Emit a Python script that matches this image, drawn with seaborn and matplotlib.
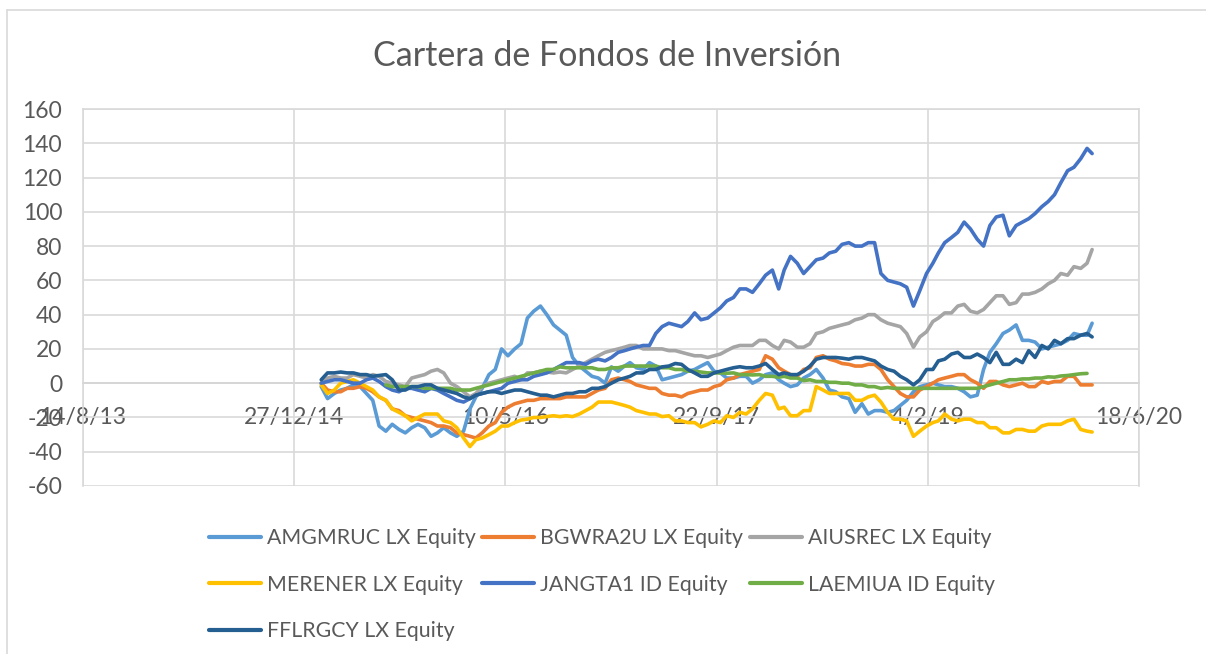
import numpy as np
import pandas as pd
import matplotlib
matplotlib.use("Agg")
import matplotlib.pyplot as plt
import seaborn as sns

# ---------------- data ----------------
series_names = ["AMGMRUC LX Equity", "BGWRA2U LX Equity", "AIUSREC LX Equity",
                "MERENER LX Equity", "JANGTA1 ID Equity", "LAEMIUA ID Equity",
                "FFLRGCY LX Equity"]

# observation dates: 1st and 16th of each month, plus last observation
month_starts = pd.date_range("2015-03-01", periods=60, freq="MS")
last_date = pd.Timestamp("2020-02-28")

nan = np.nan
# values on the 1st of each month (m), mid-month (h), and last observation (end)
amgmruc_m = [-2, -6, -3, -2, -10, -28, -27, -26, -26, -29,
             -29, -28, -8, 5, 20, 20, 38, 45, 34, 28,
             10, 4, 0, 7, 12, 8, 10, 3, 5, 8,
             12, 6, 3, 4, 2, 6, 0, -1, 5, 3,
             -5, -9, -12, -16, -17, -13, -5, -1, -1, -2,
             -5, -7, 18, 29, 34, 25, 20, 22, 25, 28]
amgmruc_h = [-9, -4, -1, -6, -25, -24, -29, -24, -31, -26,
             -31, -15, -3, 8, 16, 23, 42, 40, 31, 15,
             7, 3, 9.5, 10, 9, 12, 2, 4, 7, 10,
             7, 3, 4, 0, 5, 2, -2, 3, 8, -4,
             -8, -17, -18, -16, -16, -10, -2, 0, -2, -3,
             -8, 8, 23, 31, 25, 24, 21, 23, 29, 28]
amgmruc_end = 35

bgwra2u_m = [0, -5, -3, -2, -5, -10, -16, -20, -22, -25,
             -26, -30, -32, -25, -17, -12, -10, -9, -9, -8,
             -8, -6, -3, 3, 1, -2, -3, -7, -8, -5,
             -4, -1, 3, 6, 8, 14, 7, 4, 9, 16,
             13, 11, 10, 11, 2, -6, -8, -2, 2, 4,
             5, 0, 1, -1, -1, -2, 1, 1, 4, -1]
bgwra2u_h = [-4, -5, -3, -3, -8, -15, -19, -21, -23, -25,
             -29, -31, -29, -23, -14, -11, -10, -9, -9, -8,
             -8, -4, 2, 2, -1, -3, -6, -7, -6, -4,
             -2, 2, 5, 7, 16, 9, 5, 8, 15, 14,
             11.5, 10, 11, 8, -2, -8, -4, 0, 3, 5,
             2, -3, 1, -2, 0, -2, 0, 1, 4, -1]
bgwra2u_end = -1

aiusrec_m = [0, 4, 3, 4, 5, 1, -1, 3, 5, 8,
             0, -5, -6, 0, 2, 4, 6, 7, 6, 6,
             10, 14, 18, 20, 22, 20, 20, 19, 18, 16,
             15, 17, 21, 22, 25, 22, 25, 21, 23, 30,
             33, 35, 38, 40, 35, 33, 21, 30, 38, 41,
             46, 41, 47, 51, 47, 52, 55, 60, 63, 67]
aiusrec_h = [3, 3, 5, 3, 4, 0, -2, 4, 7, 6,
             -2, -8, -2, 1, 3, 2, 6, 6.5, 6.5, 8,
             12, 16, 19, 21, 22, 20, 20, 19, 17, 16,
             16, 19, 22, 22, 25, 20, 24, 21, 29, 32,
             34, 37, 40, 37, 34, 29, 27, 36, 41, 45,
             42, 43, 51, 46, 52, 53, 58, 64, 68, 70]
aiusrec_end = 78

merener_m = [-1, -4, 1, 0, -4, -10, -17, -22, -18, -18,
             -23, -32, -33, -30, -25, -23, -21, -20, -19, -19,
             -18, -14, -11, -12, -14, -17, -18, -19, -22, -23,
             -24, -23, -20, -18, -10, -7, -14, -19, -16, -4,
             -6, -6, -10, -7, -17, -21, -31, -25, -22, -21,
             -21, -23, -26, -29, -27, -28, -25, -24, -22, -27]
merener_h = [-6, 0, 2, -2, -8, -15, -19, -20, -18, -22,
             -26, -37, -32, -28, -25, -21.5, -20, -19.5, -19.5, -19.5,
             -16, -11, -11, -13, -16, -18, -19.5, -22, -23, -25.5,
             -22, -19, -17, -15, -6, -15, -19, -16, -2, -6,
             -6, -10, -8, -11, -21, -22, -28, -23, -18, -22,
             -21, -23, -26, -29, -27, -28, -24, -24, -21, -28]
merener_end = -28.5

jangta1_m = [0, 2, 1, 0, 3, -2, -5, -3, -5, -4,
             -8, -11, -7, -5, -3, 1, 2, 5, 8, 12,
             12, 13, 13, 18, 20, 22, 29, 35, 33, 41,
             38, 44, 50, 55, 58, 66, 66, 70, 68, 73,
             77, 82, 80, 82, 60, 58, 45, 64, 76, 85,
             94, 84, 92, 98, 92, 96, 103, 110, 124, 131]
jangta1_h = [1, 2, 0, 2, 1, -4, -3, -4, -3, -6,
             -10, -9, -6, -4, 0, 2, 4, 6, 10, 12,
             11, 14, 15, 19, 21, 22, 33, 34, 36, 37,
             41, 48, 55, 53, 63, 55, 74, 64, 72, 76,
             81, 80, 82, 64, 59, 56, 54, 70, 82, 88,
             90, 80, 97, 86, 94, 99, 106, 117, 126, 137]
jangta1_end = 134

laemiua_m = [nan, nan, nan, nan, nan, -1, -2, -2, -3, -3,
             -3, -4, -3, -1, 1, 3, 5, 7, 8, 9,
             9, 9, 8, 9, 10, 10, 10, 9, 8, 7,
             6, 6, 6, 5, 5, 4, 4, 3, 2, 1,
             0.5, 0, -1, -2, -2.5, -3, -3, -3, -3, -3,
             -3, -3, -1, 1, 2, 2.5, 3, 3.5, 4.5, 5.5]
laemiua_h = [nan, nan, nan, nan, nan, -2, -2, -2, -3, -3,
             -4, -4, -2, 0, 2, 4, 6, 8, 9.5, 9,
             9, 8, 9, 10, 10, 10, 9, 8, 7, 6.5,
             6, 5.8, 5, 4.8, 4, 3.5, 3, 1.5, 1, 0.5,
             0, -1, -2, -3, -3, -3, -3, -3, -3, -3,
             -3, -2, 0, 2, 2.5, 3, 3.7, 4.2, 5, 5.7]
laemiua_end = nan

fflrgcy_m = [2, 6, 6, 5, 4, 5, -4, -2, -1, -3,
             -5, -8, -7, -5, -6, -4, -5, -7, -8, -6,
             -5, -3, -2, 2, 4, 6, 8, 10, 11, 6,
             4, 7, 9, 9, 10, 8, 6, 5, 10, 15,
             15, 14, 15, 13, 8, 4, -1, 8, 13, 17,
             15, 17, 12, 11, 14, 19, 22, 25, 26, 28]
fflrgcy_h = [6, 6.5, 6, 5, 4.5, 2, -4, -2, -1, -4,
             -6, -9, -6, -5, -5, -4, -6, -7, -7, -6,
             -5, -3, 0, 3, 6, 8, 9.5, 11.5, 8, 4,
             6, 8, 9.6, 9, 11.5, 5, 5, 7, 14, 15,
             14.6, 15, 14, 10, 7, 2, 2, 8, 14, 18,
             15, 15, 18, 11, 12, 15, 20, 23, 26, 29]
fflrgcy_end = 27

x_tick_dates = ["2013-08-14", "2014-12-27", "2016-05-10", "2017-09-22", "2019-02-04", "2020-06-18"]
x_tick_labels = ["14/8/13", "27/12/14", "10/5/16", "22/9/17", "4/2/19", "18/6/20"]
y_ticks = [-60, -40, -20, 0, 20, 40, 60, 80, 100, 120, 140, 160]

colors = ["#5B9BD5", "#ED7D31", "#A5A5A5", "#FFC000", "#4472C4", "#70AD47", "#255E91"]

# ---------------- build long table ----------------
dates = []
for d in month_starts:
    dates.append(d)
    dates.append(d + pd.Timedelta(days=15))
dates.append(last_date)

def series(m, h, end):
    out = []
    for a, b in zip(m, h):
        out.extend([a, b])
    out.append(end)
    return out

values = [series(amgmruc_m, amgmruc_h, amgmruc_end),
          series(bgwra2u_m, bgwra2u_h, bgwra2u_end),
          series(aiusrec_m, aiusrec_h, aiusrec_end),
          series(merener_m, merener_h, merener_end),
          series(jangta1_m, jangta1_h, jangta1_end),
          series(laemiua_m, laemiua_h, laemiua_end),
          series(fflrgcy_m, fflrgcy_h, fflrgcy_end)]
frames = []
for name, vals in zip(series_names, values):
    frames.append(pd.DataFrame({"Fecha": dates, "Valor": vals, "Serie": name}))
df = pd.concat(frames, ignore_index=True).dropna()

# ---------------- figure ----------------
sns.set_theme(style="white")
plt.rcParams["font.family"] = ["Lato", "DejaVu Sans"]
TXT = "#595959"
GRID = "#D9D9D9"

W, H = 1206, 654
fig = plt.figure(figsize=(W / 100, H / 100), dpi=100)
L, R, T, B = 83, 1139, 109, 486
ax = fig.add_axes([L / W, 1 - B / H, (R - L) / W, (B - T) / H])

sns.lineplot(data=df, x="Fecha", y="Valor", hue="Serie", hue_order=series_names,
             palette=colors, linewidth=2.6, ax=ax, legend=False, sort=True,
             estimator=None)

ax.set_xlim(pd.Timestamp(x_tick_dates[0]), pd.Timestamp(x_tick_dates[-1]))
ax.set_ylim(-60, 160)
ax.set_xticks([pd.Timestamp(d) for d in x_tick_dates])
ax.set_xticklabels(x_tick_labels)
ax.set_yticks(y_ticks)
ax.set_yticklabels([str(v) for v in y_ticks])
ax.set_xlabel("")
ax.set_ylabel("")

ax.grid(True, color=GRID, linewidth=1.2)
ax.set_axisbelow(True)
for s in ["left", "right", "top"]:
    ax.spines[s].set_color(GRID)
    ax.spines[s].set_linewidth(1.2)
ax.spines["bottom"].set_position(("data", 0))
ax.spines["bottom"].set_color("#BFBFBF")
ax.spines["bottom"].set_linewidth(1.2)
ax.spines["bottom"].set_zorder(0.5)

ax.tick_params(axis="x", length=0, pad=17, labelsize=16.5, labelcolor=TXT)
ax.tick_params(axis="y", length=0, pad=15, labelsize=16.5, labelcolor=TXT)

fig.text(607 / W, 1 - 56 / H, "Cartera de Fondos de Inversión", ha="center", va="center",
         fontsize=24.5, color=TXT)

# legend (row-major in reference -> reorder for column-major fill)
handles = [plt.Line2D([], [], color=c, linewidth=3) for c in colors]
order = [0, 3, 6, 1, 4, 2, 5]
leg = fig.legend([handles[i] for i in order], [series_names[i] for i in order],
                 ncol=3, loc="upper left", bbox_to_anchor=(209 / W, 1 - 528 / H),
                 frameon=False, fontsize=15.3, labelcolor=TXT,
                 handlelength=2.45, handletextpad=0.28, columnspacing=0.3,
                 labelspacing=1.25, borderaxespad=0, borderpad=0)

# outer chart border
fig.add_artist(plt.Line2D([7 / W, 7 / W], [0, 1 - 10 / H], transform=fig.transFigure,
                          color=GRID, linewidth=1.2))
fig.add_artist(plt.Line2D([7 / W, 1], [1 - 10 / H, 1 - 10 / H], transform=fig.transFigure,
                          color=GRID, linewidth=1.2))

fig.savefig("out.png", dpi=100, facecolor="white")
